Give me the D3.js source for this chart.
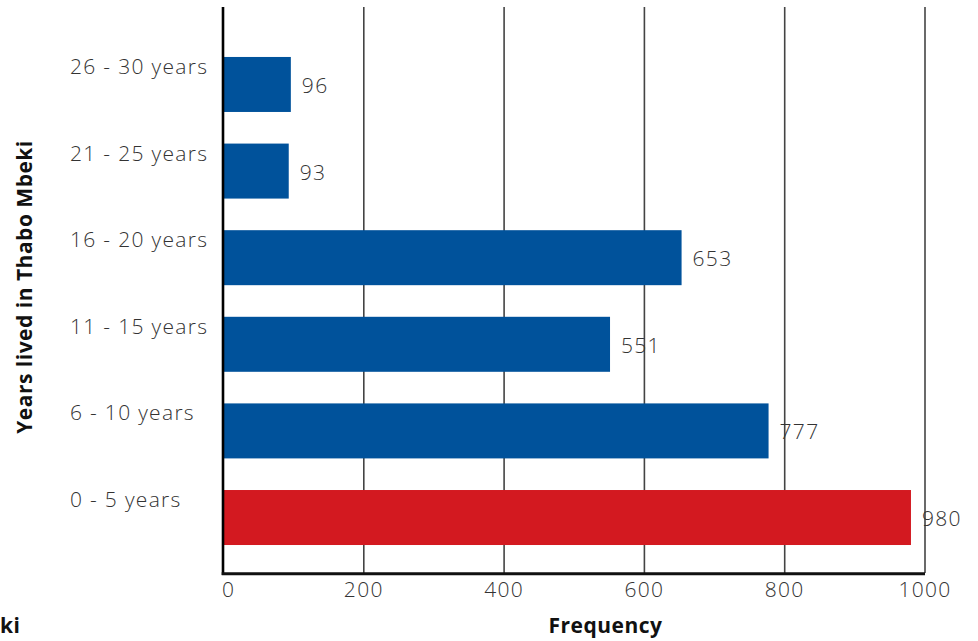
<!DOCTYPE html>
<html><head><meta charset="utf-8">
<script src="https://cdn.jsdelivr.net/npm/d3@7"></script>
<style>
body{margin:0;background:#fff;}
text{font-family:"Open Sans",sans-serif;}
</style></head>
<body><svg id="chart" width="978" height="641"></svg>
<script>
const categories = ["26 - 30 years","21 - 25 years","16 - 20 years","11 - 15 years","6 - 10 years","0 - 5 years"];
const values = [96, 93, 653, 551, 777, 980];
const highlight = [false, false, false, false, false, true];
const xTicks = [0, 200, 400, 600, 800, 1000];
const yTitle = "Years lived in Thabo Mbeki";
const xTitle = "Frequency";

const svg = d3.select("#chart");
const x = d3.scaleLinear().domain([0, 1000]).range([223.5, 925]);
const y = d3.scaleBand().domain(categories).range([7, 573])
  .paddingInner(0.365).paddingOuter(0.45).align(0.641);

// gridlines
svg.append("g").selectAll("line").data(xTicks.slice(1)).join("line")
  .attr("x1", d => x(d)).attr("x2", d => x(d))
  .attr("y1", 7).attr("y2", 573)
  .attr("stroke", "#444").attr("stroke-width", 1.6);

// bars
svg.append("g").selectAll("rect").data(values).join("rect")
  .attr("x", x(0)).attr("y", (d,i) => y(categories[i]))
  .attr("width", d => x(d) - x(0)).attr("height", y.bandwidth())
  .attr("fill", (d,i) => highlight[i] ? "#D31920" : "#00529B");

const lightText = sel => sel.attr("font-size", 21).attr("font-weight", 300)
  .attr("letter-spacing", "1.3px").attr("fill", "#333");

// value labels
svg.append("g").selectAll("text").data(values).join("text")
  .attr("x", d => x(d) + 11)
  .attr("y", (d,i) => y(categories[i]) + y.bandwidth()/2 + 1)
  .attr("dy", "0.36em")
  .call(lightText)
  .text(d => d);

// category labels
svg.append("g").selectAll("text").data(categories).join("text")
  .attr("x", 70)
  .attr("y", d => y(d) + y.bandwidth()/2 - 18)
  .attr("dy", "0.36em")
  .call(lightText)
  .text(d => d);

// axes lines
svg.append("line").attr("x1", 223).attr("x2", 223).attr("y1", 7).attr("y2", 575)
  .attr("stroke", "#000").attr("stroke-width", 2.6);
svg.append("line").attr("x1", 221.7).attr("x2", x(1000)).attr("y1", 573.8).attr("y2", 573.8)
  .attr("stroke", "#111").attr("stroke-width", 3);

// tick labels
svg.append("g").selectAll("text").data(xTicks).join("text")
  .attr("x", d => d === 0 ? x(d) - 1.5 : x(d))
  .attr("y", 589)
  .attr("dy", "0.36em")
  .attr("text-anchor", d => d === 0 ? "start" : "middle")
  .call(lightText)
  .text(d => d);

// titles
const boldText = sel => sel.attr("font-size", 21).attr("font-weight", 700)
  .attr("letter-spacing", "0.5px").attr("fill", "#111");
svg.append("text").attr("transform", "translate(31.5,287) rotate(-90)")
  .attr("text-anchor", "middle").call(boldText)
  .text(yTitle);
svg.append("text").attr("x", 605.5).attr("y", 633)
  .attr("text-anchor", "middle").call(boldText)
  .text(xTitle);
svg.append("text").attr("x", 0).attr("y", 633)
  .call(boldText)
  .text("ki");
</script></body></html>
